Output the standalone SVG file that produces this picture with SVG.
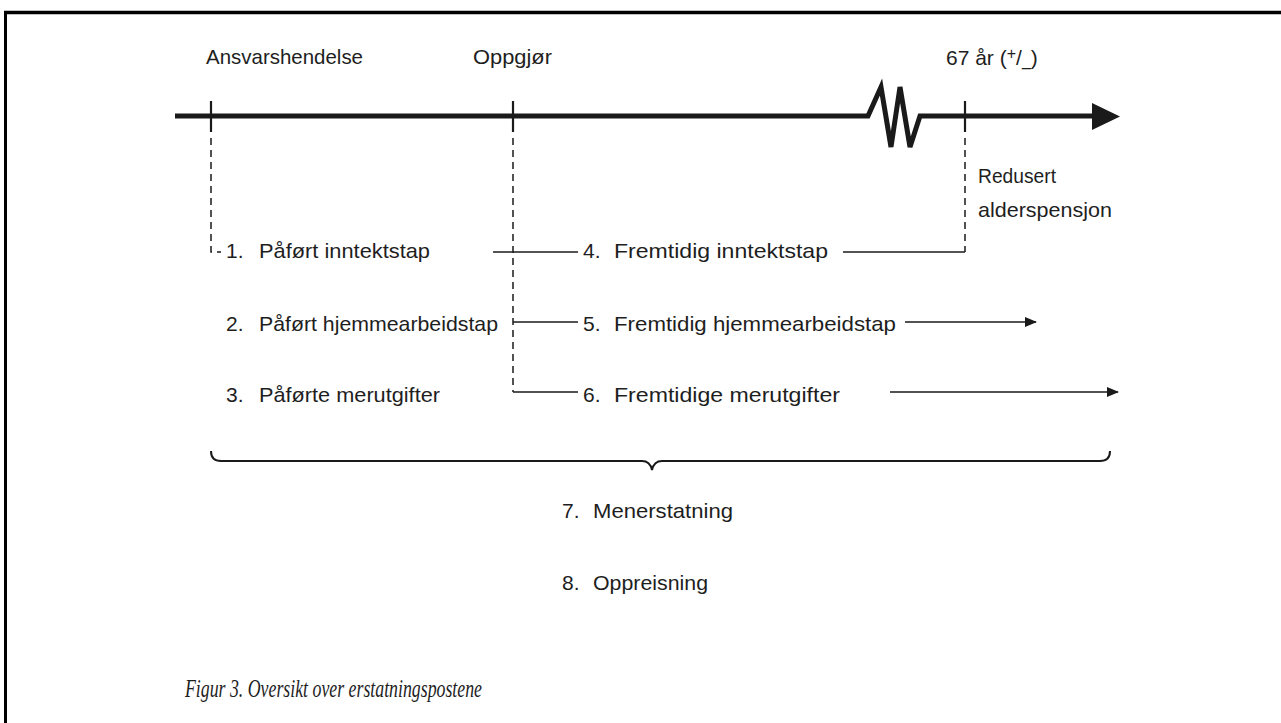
<svg xmlns="http://www.w3.org/2000/svg" width="1281" height="723" viewBox="0 0 1281 723">
<style>
.t{font-family:"Liberation Sans","DejaVu Sans",sans-serif;font-size:21px;fill:#1e1e1e}
.cap{font-family:"Liberation Serif","DejaVu Serif",serif;font-style:italic;font-size:25px;fill:#1e1e1e}
.ln{stroke:#1a1a1a;stroke-width:1.6;fill:none}
.dash{stroke:#1a1a1a;stroke-width:1.5;fill:none;stroke-dasharray:7 5}
.tick{stroke:#1a1a1a;stroke-width:2.2}
</style>
<defs>
<marker id="ah" markerWidth="12" markerHeight="10" refX="11" refY="5" orient="auto" markerUnits="userSpaceOnUse">
<path d="M0,0 L12,5 L0,10 Z" fill="#1a1a1a"/>
</marker>
</defs>
<rect width="1281" height="723" fill="#fff"/>
<g id="frame">
<line x1="4" y1="12.5" x2="1281" y2="12.5" stroke="#000" stroke-width="3.5"/>
<line x1="5.5" y1="11" x2="5.5" y2="723" stroke="#000" stroke-width="3"/>
</g>
<g id="timeline">
<path d="M175,116 L868,116 L881,87 L891,147 L900,87 L910,147 L920,116 L1095,116" stroke="#1a1a1a" stroke-width="5" fill="none" stroke-linejoin="miter"/>
<polygon points="1092,103 1120,116.5 1092,130" fill="#1a1a1a"/>
<line class="tick" x1="211" y1="101" x2="211" y2="132"/>
<line class="tick" x1="513" y1="101" x2="513" y2="132"/>
<line class="tick" x1="965" y1="101" x2="965" y2="132"/>
</g>
<g id="labels-top">
<text class="t" x="206" y="64" textLength="157" lengthAdjust="spacingAndGlyphs">Ansvarshendelse</text>
<text class="t" x="473" y="64" textLength="79" lengthAdjust="spacingAndGlyphs">Oppgjør</text>
<text class="t" x="946" y="65">67 år (<tspan font-size="16" dy="-6">+</tspan><tspan dy="6">/</tspan><tspan font-size="16" dy="1">_</tspan><tspan dy="-1">)</tspan></text>
<text class="t" x="978" y="183" font-size="20" textLength="78" lengthAdjust="spacingAndGlyphs">Redusert</text>
<text class="t" x="978" y="217" font-size="20" textLength="134" lengthAdjust="spacingAndGlyphs">alderspensjon</text>
</g>
<g id="connectors">
<path class="dash" d="M211,138 L211,252 L221,252"/>
<path class="dash" d="M513,138 L513,392"/>
<path class="dash" d="M965,138 L965,252"/>
<line class="ln" x1="493" y1="252" x2="578" y2="252"/>
<line class="ln" x1="843" y1="252" x2="965" y2="252"/>
<line class="ln" x1="513" y1="322" x2="578" y2="322"/>
<line class="ln" x1="905" y1="322" x2="1036" y2="322" marker-end="url(#ah)"/>
<line class="ln" x1="513" y1="392" x2="578" y2="392"/>
<line class="ln" x1="890" y1="392" x2="1118" y2="392" marker-end="url(#ah)"/>
<path d="M211,451 Q211,461 221,461 L642,461 Q650,461 652,470 Q654,461 662,461 L1100,461 Q1110,461 1110,451" stroke="#1a1a1a" stroke-width="2" fill="none"/>
</g>
<g id="n1"><text class="t" x="226" y="258">1.</text><text class="t" x="259" y="258" textLength="171" lengthAdjust="spacingAndGlyphs">Påført inntektstap</text></g>
<g id="n2"><text class="t" x="226" y="331">2.</text><text class="t" x="259" y="331" textLength="239" lengthAdjust="spacingAndGlyphs">Påført hjemmearbeidstap</text></g>
<g id="n3"><text class="t" x="226" y="402">3.</text><text class="t" x="259" y="402" textLength="181" lengthAdjust="spacingAndGlyphs">Påførte merutgifter</text></g>
<g id="n4"><text class="t" x="583" y="258">4.</text><text class="t" x="614" y="258" textLength="214" lengthAdjust="spacingAndGlyphs">Fremtidig inntektstap</text></g>
<g id="n5"><text class="t" x="583" y="331">5.</text><text class="t" x="614" y="331" textLength="282" lengthAdjust="spacingAndGlyphs">Fremtidig hjemmearbeidstap</text></g>
<g id="n6"><text class="t" x="583" y="402">6.</text><text class="t" x="614" y="402" textLength="226" lengthAdjust="spacingAndGlyphs">Fremtidige merutgifter</text></g>
<g id="n7"><text class="t" x="562" y="518">7.</text><text class="t" x="593" y="518" textLength="140" lengthAdjust="spacingAndGlyphs">Menerstatning</text></g>
<g id="n8"><text class="t" x="562" y="590">8.</text><text class="t" x="593" y="590" textLength="115" lengthAdjust="spacingAndGlyphs">Oppreisning</text></g>
<g id="caption"><text class="cap" x="185" y="697" textLength="297" lengthAdjust="spacingAndGlyphs">Figur 3. Oversikt over erstatningspostene</text></g>
</svg>
